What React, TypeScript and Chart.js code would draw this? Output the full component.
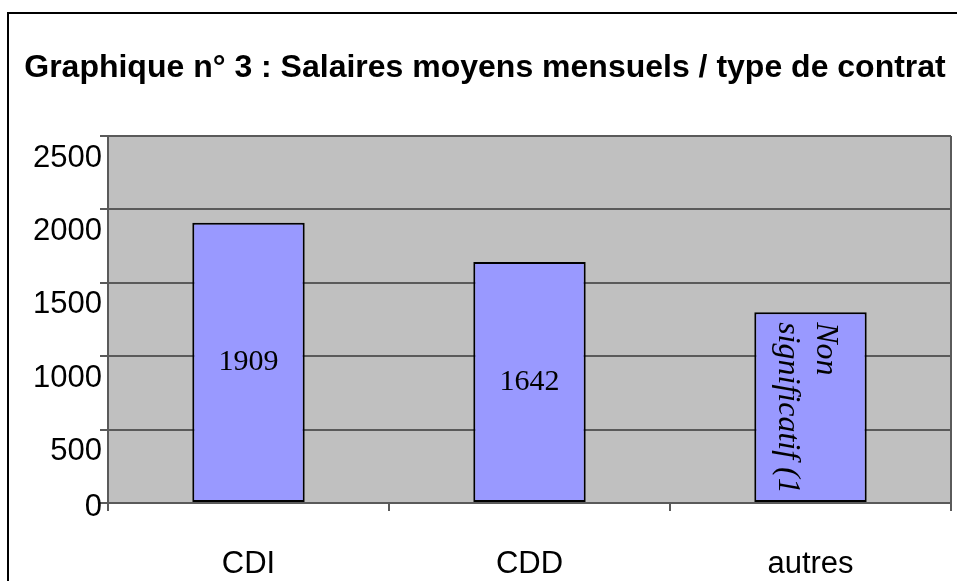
import React, { useEffect, useRef } from "react";
import { Chart, registerables } from "chart.js";

Chart.register(...registerables);

const TITLE = "Graphique n° 3 : Salaires moyens mensuels / type de contrat";
const categories = ["CDI", "CDD", "autres"];
const salaries = [1909, 1642, 1300];
const barLabels: string[][] = [["1909"], ["1642"], ["Non", "significatif (1"]];
const rotatedLabel = [false, false, true];
const yMin = 0;
const yMax = 2500;
const yStep = 500;

const SANS = "'Liberation Sans', Arial, sans-serif";
const SERIF = "'Liberation Serif', 'Times New Roman', serif";
const GRID = "#5a5a5a";

const decorPlugin = {
  id: "decor",
  beforeDraw(chart: any) {
    const { ctx, chartArea: a, width, height } = chart;
    ctx.save();
    ctx.fillStyle = "#ffffff";
    ctx.fillRect(0, 0, width, height);
    ctx.strokeStyle = "#000000";
    ctx.lineWidth = 2;
    ctx.strokeRect(8, 13, 1400, 1400);
    ctx.fillStyle = "#C0C0C0";
    ctx.fillRect(a.left, a.top, a.right - a.left, a.bottom - a.top);
    ctx.fillStyle = "#000000";
    ctx.font = `bold 32px ${SANS}`;
    ctx.textAlign = "center";
    ctx.textBaseline = "alphabetic";
    ctx.fillText(TITLE, 485, 77);
    ctx.restore();
  },
  afterDatasetsDraw(chart: any) {
    const { ctx } = chart;
    const meta = chart.getDatasetMeta(0);
    ctx.save();
    ctx.fillStyle = "#000000";
    meta.data.forEach((bar: any, i: number) => {
      const { x, y, base } = bar.getProps(["x", "y", "base"], true);
      const lines = barLabels[i];
      if (rotatedLabel[i]) {
        ctx.save();
        ctx.translate(x, y + 10);
        ctx.rotate(Math.PI / 2);
        ctx.font = `italic 32px ${SERIF}`;
        ctx.textAlign = "left";
        ctx.textBaseline = "alphabetic";
        lines.forEach((t, j) => ctx.fillText(t, 0, -6.5 + j * 38));
        ctx.restore();
      } else {
        ctx.font = `30px ${SERIF}`;
        ctx.textAlign = "center";
        ctx.textBaseline = "middle";
        ctx.fillText(lines[0], x, (y + base) / 2);
      }
    });
    ctx.restore();
  },
  afterDraw(chart: any) {
    const { ctx, chartArea: a } = chart;
    const yScale = chart.scales.y;
    ctx.save();
    ctx.strokeStyle = GRID;
    ctx.lineWidth = 2;
    ctx.beginPath();
    ctx.moveTo(a.right, a.top);
    ctx.lineTo(a.right, a.bottom);
    ctx.stroke();
    ctx.fillStyle = "#000000";
    ctx.font = `31px ${SANS}`;
    ctx.textAlign = "right";
    ctx.textBaseline = "middle";
    yScale.ticks.forEach((t: any) => {
      const py = yScale.getPixelForValue(t.value);
      ctx.fillText(String(t.value), 102, Math.min(py + 22, a.bottom + 4));
    });
    ctx.restore();
  },
};

export default function App() {
  const ref = useRef<HTMLCanvasElement | null>(null);
  useEffect(() => {
    if (!ref.current) return;
    const chart = new Chart(ref.current, {
      type: "bar",
      data: {
        labels: categories,
        datasets: [
          {
            data: salaries,
            backgroundColor: "#9999FF",
            borderColor: "#000000",
            borderWidth: 2,
            borderSkipped: false,
            barPercentage: 0.4,
            categoryPercentage: 1,
          },
        ],
      },
      options: {
        responsive: false,
        animation: false,
        layout: { padding: { top: 136, left: 0, right: 6, bottom: 0 } },
        plugins: {
          legend: { display: false },
          title: { display: false },
          tooltip: { enabled: false },
        },
        scales: {
          x: {
            grid: {
              display: true,
              drawOnChartArea: false,
              drawTicks: true,
              tickLength: 8,
              color: GRID,
              lineWidth: 2,
              offset: true,
            },
            border: { color: GRID, width: 2 },
            ticks: { color: "#000000", font: { family: SANS, size: 31 }, padding: 35 },
            afterFit: (s: any) => {
              s.height = 78;
            },
          },
          y: {
            min: yMin,
            max: yMax,
            grid: { color: GRID, lineWidth: 2, drawTicks: true, tickLength: 8 },
            border: { color: GRID, width: 2 },
            ticks: { stepSize: yStep, display: false },
            afterFit: (s: any) => {
              s.width = 108;
            },
          },
        },
      },
      plugins: [decorPlugin],
    });
    return () => chart.destroy();
  }, []);
  return (
    <div style={{ position: "fixed", left: 0, top: 0, width: 957, height: 581 }}>
      <canvas ref={ref} width={957} height={581} />
    </div>
  );
}
